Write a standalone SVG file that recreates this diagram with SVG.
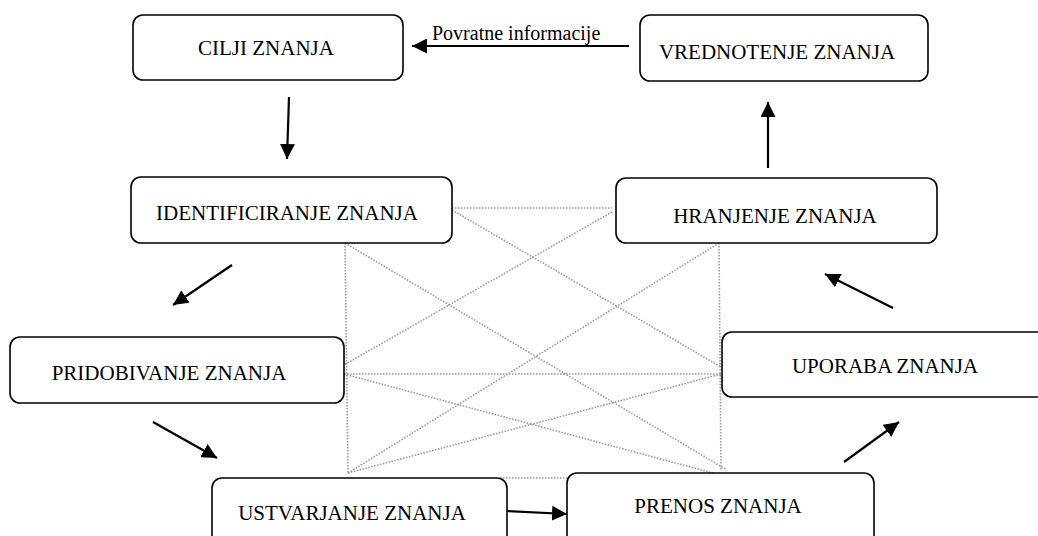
<svg xmlns="http://www.w3.org/2000/svg" width="1038" height="536" viewBox="0 0 1038 536">
<style>
.box{fill:#fff;stroke:#000;stroke-width:1.6}
.t{font-family:"Liberation Serif","Times New Roman",serif;font-size:21px;fill:#000;text-anchor:middle}
.lbl{font-family:"Liberation Serif","Times New Roman",serif;font-size:20px;fill:#000}
.dot{stroke:#999;stroke-width:1.6;stroke-dasharray:1.5 1.5;fill:none}
.arr{stroke:#000;stroke-width:2.2;fill:none;marker-end:url(#ah)}
</style>
<defs>
<marker id="ah" viewBox="0 0 10 10" refX="10" refY="5" markerUnits="userSpaceOnUse" markerWidth="15" markerHeight="15" orient="auto">
<path d="M0,0 L10,5 L0,10 z" fill="#000"/>
</marker>
</defs>
<rect width="1038" height="536" fill="#fff"/>
<g id="connectors">
<g id="dotted">
<line class="dot" x1="452" y1="208" x2="612" y2="208"/>
<line class="dot" x1="345" y1="243" x2="348" y2="473"/>
<line class="dot" x1="719" y1="243" x2="721" y2="470"/>
<line class="dot" x1="345" y1="243" x2="727" y2="470"/>
<line class="dot" x1="452" y1="210" x2="721" y2="367"/>
<line class="dot" x1="612" y1="212" x2="344" y2="365"/>
<line class="dot" x1="719" y1="243" x2="348" y2="473"/>
<line class="dot" x1="344" y1="374" x2="721" y2="374"/>
<line class="dot" x1="344" y1="374" x2="713" y2="473"/>
<line class="dot" x1="348" y1="473" x2="721" y2="374"/>
<line class="dot" x1="500" y1="478" x2="568" y2="478"/>
</g>
<g id="arrows">
<line class="arr" x1="629" y1="46" x2="412" y2="46"/>
<line class="arr" x1="289" y1="97" x2="287" y2="159"/>
<line class="arr" x1="232" y1="265" x2="173" y2="305"/>
<line class="arr" x1="153" y1="422" x2="217" y2="458"/>
<line class="arr" x1="507" y1="511" x2="567" y2="514"/>
<line class="arr" x1="844" y1="462" x2="899" y2="422"/>
<line class="arr" x1="893" y1="308" x2="825" y2="274"/>
<line class="arr" x1="768" y1="168" x2="768" y2="102"/>
</g>
<text class="lbl" x="432" y="40">Povratne informacije</text>
</g>
<g id="cilji"><rect class="box" x="133" y="15" width="270" height="65" rx="10"/><text class="t" x="266" y="55">CILJI ZNANJA</text></g>
<g id="vrednotenje"><rect class="box" x="640" y="15" width="288" height="66" rx="10"/><text class="t" x="777" y="59">VREDNOTENJE ZNANJA</text></g>
<g id="identificiranje"><rect class="box" x="131" y="177" width="321" height="66" rx="10"/><text class="t" x="287" y="220">IDENTIFICIRANJE ZNANJA</text></g>
<g id="hranjenje"><rect class="box" x="616" y="178" width="321" height="65" rx="10"/><text class="t" x="775" y="223">HRANJENJE ZNANJA</text></g>
<g id="pridobivanje"><rect class="box" x="10" y="337" width="334" height="66" rx="10"/><text class="t" x="169" y="380">PRIDOBIVANJE ZNANJA</text></g>
<g id="uporaba"><rect class="box" x="722" y="332" width="330" height="65" rx="10"/><text class="t" x="885" y="373">UPORABA ZNANJA</text></g>
<g id="ustvarjanje"><rect class="box" x="212" y="478" width="295" height="80" rx="10"/><text class="t" x="352" y="520">USTVARJANJE ZNANJA</text></g>
<g id="prenos"><rect class="box" x="567" y="473" width="307" height="85" rx="10"/><text class="t" x="718" y="513">PRENOS ZNANJA</text></g>
</svg>
